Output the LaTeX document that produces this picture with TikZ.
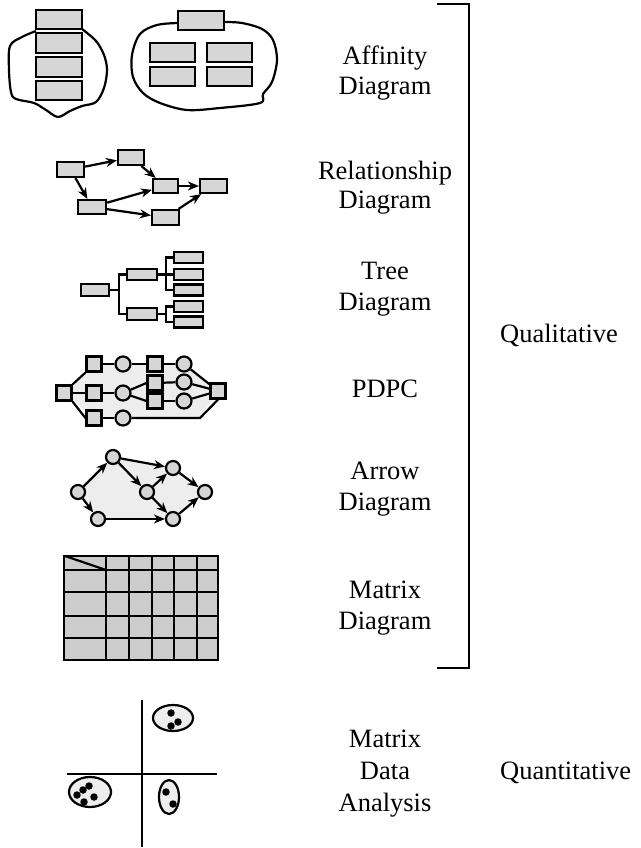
\documentclass[tikz,border=0pt]{standalone}
\usepackage{fontspec}
\setmainfont{Liberation Serif}
\usetikzlibrary{arrows.meta,calc}
\definecolor{boxgray}{gray}{0.84}
\definecolor{hullgray}{gray}{0.93}
\definecolor{matgray}{gray}{0.8}
\begin{document}
\begin{tikzpicture}[x=1pt,y=-1pt,
  ln/.style={line width=2.2pt},
  bx/.style={draw, line width=2.2pt, fill=boxgray, inner sep=0pt, minimum width=#1},
  bx/.default=27pt,
  sq/.style={draw, line width=2.2pt, fill=boxgray, inner sep=0pt, minimum width=15pt, minimum height=15pt},
  ci/.style={draw, line width=2.2pt, fill=boxgray, circle, inner sep=0pt, minimum size=#1},
  ci/.default=15pt,
  arr/.style={line width=2.2pt, -{Stealth[length=11pt,width=9pt]}},
  lbl/.style={anchor=base, inner sep=0pt, font=\fontsize{26.5}{30}\selectfont},
  lblw/.style={anchor=base west, inner sep=0pt, font=\fontsize{26.5}{30}\selectfont},
  dot/.style={fill=black, circle, inner sep=0pt, minimum size=7.5pt}
]
\useasboundingbox[fill=white] (0,0) rectangle (640,848);

% ---------- Affinity diagram ----------
\draw[ln] plot[smooth, tension=0.55] coordinates {(82,29) (96,41) (104,55) (107,70) (104,88) (96,102) (82,106) (70,111) (58,117) (46,110) (34,103) (16,99) (11,92) (9,70) (10,46) (22,37) (36,31)};
\node[bx=46pt, minimum height=19pt] (af0) at (59,19.5) {};
\node[bx=46pt, minimum height=20pt] (af1) at (59,43) {};
\node[bx=46pt, minimum height=20pt] (af2) at (59,67) {};
\node[bx=46pt, minimum height=19pt] (af3) at (59,90.5) {};

\draw[ln] plot[smooth, tension=0.55] coordinates {(178,23) (157,25) (140,34) (132,55) (133,77) (143,93) (160,103) (187,110) (220,108) (260,103) (263,94) (272,82) (277,60) (273,40) (262,29) (242,23) (224,22)};
\node[bx=46pt, minimum height=19pt] (ar0) at (201,20.5) {};
\node[bx=45pt, minimum height=19pt] (ar1) at (172.5,52.5) {};
\node[bx=45pt, minimum height=19pt] (ar2) at (229.5,52.5) {};
\node[bx=45pt, minimum height=19pt] (ar3) at (172.5,76.5) {};
\node[bx=45pt, minimum height=19pt] (ar4) at (229.5,76.5) {};

% ---------- Relationship diagram ----------
\node[bx=27pt, minimum height=15pt] (rA) at (70.5,169.5) {};
\node[bx=26pt, minimum height=15pt] (rB) at (131,157.5) {};
\node[bx=25pt, minimum height=14pt] (rC) at (165.5,186) {};
\node[bx=27pt, minimum height=14pt] (rD) at (213.5,186) {};
\node[bx=28pt, minimum height=14pt] (rE) at (92,207) {};
\node[bx=27pt, minimum height=15pt] (rF) at (165.5,217.5) {};
\draw[arr] (rA) -- (rB);
\draw[arr] (rA) -- (rE);
\draw[arr] (rB) -- (rC);
\draw[arr] (rE) -- (rC);
\draw[arr] (rE) -- (rF);
\draw[arr] (rC) -- (rD);
\draw[arr] (rF) -- (rD);

% ---------- Tree diagram ----------
\node[bx=28pt, minimum height=12pt] (t0) at (95,290) {};
\node[bx=30pt, minimum height=11pt] (tm1) at (142,274.5) {};
\node[bx=30pt, minimum height=12pt] (tm2) at (142,314) {};
\node[bx=29pt, minimum height=11pt] (tl1) at (188.5,257.5) {};
\node[bx=29pt, minimum height=11pt] (tl2) at (188.5,274.5) {};
\node[bx=29pt, minimum height=11pt] (tl3) at (188.5,290) {};
\node[bx=29pt, minimum height=11pt] (tl4) at (188.5,306.5) {};
\node[bx=29pt, minimum height=11pt] (tl5) at (188.5,322) {};
\draw[ln] (t0.east) -- ++(9,0) coordinate (tj0);
\draw[ln] (tm1.west) -| (tj0) |- (tm2.west);
\draw[ln] (tm1.east) -- (tl2.west);
\coordinate (tj1) at ($(tm1.east)+(8,0)$);
\draw[ln] (tl1.west) -| (tj1) |- (tl3.west);
\draw[ln] (tm2.east) -- ++(8,0) coordinate (tj2);
\draw[ln] (tl4.west) -| (tj2) |- (tl5.west);

% ---------- PDPC ----------
\fill[hullgray] (64,393) -- (94,364) -- (184,364) -- (218,391) -- (200,418) -- (94,418) -- cycle;
\node[sq] (p0) at (64,393) {};
\node[sq] (ps1) at (94,364) {};
\node[ci] (pc1) at (123,364) {};
\node[sq] (ps1b) at (155,364) {};
\node[ci] (pc1b) at (184,364) {};
\node[sq] (ps2) at (94,393) {};
\node[ci] (pc2) at (123,393) {};
\node[sq] (ps2a) at (155,383) {};
\node[ci] (pc2a) at (184,382) {};
\node[sq] (ps2b) at (155,401) {};
\node[ci] (pc2b) at (184,401) {};
\node[sq] (pend) at (218,391) {};
\node[sq] (ps3) at (94,418) {};
\node[ci] (pc3) at (123,418) {};
\coordinate (pk) at (200,418);
\draw[ln] (p0.north east) -- (ps1.south west);
\draw[ln] (p0) -- (ps2);
\draw[ln] (p0.south east) -- (ps3.west);
\draw[ln] (ps1) -- (pc1);
\draw[ln] (pc1) -- (ps1b);
\draw[ln] (ps1b) -- (pc1b);
\draw[ln] (pc1b) -- (pend);
\draw[ln] (ps2) -- (pc2);
\draw[ln] (pc2) -- (ps2a.west);
\draw[ln] (pc2) -- (ps2b.west);
\draw[ln] (ps2a) -- (pc2a);
\draw[ln] (ps2b) -- (pc2b);
\draw[ln] (pc2a) -- (pend);
\draw[ln] (pc2b) -- (pend);
\draw[ln] (ps3) -- (pc3);
\draw[ln] (pc3) -- (pk) -- (pend.south);

% ---------- Arrow diagram ----------
\fill[hullgray] (78,492) -- (113,457) -- (173,468) -- (205,492) -- (173,519) -- (98,519) -- cycle;
\node[ci=14pt] (da) at (78,492) {};
\node[ci=14pt] (db) at (113,457) {};
\node[ci=14pt] (dc) at (98,519) {};
\node[ci=14pt] (dd) at (147,492) {};
\node[ci=14pt] (de) at (173,468) {};
\node[ci=14pt] (df) at (173,519) {};
\node[ci=14pt] (dg) at (205,492) {};
\draw[arr] (da) -- (db);
\draw[arr] (da) -- (dc);
\draw[arr] (db) -- (de);
\draw[arr] (db) -- (dd);
\draw[arr] (dd) -- (de);
\draw[arr] (dd) -- (df);
\draw[arr] (dc) -- (df);
\draw[arr] (de) -- (dg);
\draw[arr] (df) -- (dg);

% ---------- Matrix diagram ----------
\fill[matgray] (64,556) rectangle (218,660);
\foreach \x in {106,129,152,174,197} \draw[ln] (\x,556) -- (\x,660);
\foreach \y in {570,592,616,638} \draw[ln] (64,\y) -- (218,\y);
\draw[ln] (64,556) rectangle (218,660);
\draw[ln] (65,556) -- (106,570);

% ---------- Matrix data analysis ----------
\draw[ln] (142,700) -- (142,847);
\draw[ln] (67,774) -- (217,774);
\draw[ln, fill=hullgray] (173,718) ellipse [x radius=20, y radius=13];
\draw[ln, fill=hullgray] (90,792) ellipse [x radius=21, y radius=15];
\draw[ln, fill=hullgray] (169,797) ellipse [x radius=10, y radius=17];
\node[dot] (m1) at (171,713) {};
\node[dot] (m2) at (178,722) {};
\node[dot] (m3) at (171,726) {};
\node[dot] (m4) at (89,786) {};
\node[dot] (m5) at (83,790) {};
\node[dot] (m6) at (77,795) {};
\node[dot] (m7) at (94,797) {};
\node[dot] (m8) at (84,802) {};
\node[dot] (m9) at (166,792) {};
\node[dot] (m10) at (173,804) {};

% ---------- Labels ----------
\node[lbl] (L1a) at (385,65) {Affinity};
\node[lbl] (L1b) at (385,95) {Diagram};
\node[lbl] (L2a) at (385,179) {Relationship};
\node[lbl] (L2b) at (385,208) {Diagram};
\node[lbl] (L3a) at (385,279) {Tree};
\node[lbl] (L3b) at (385,310) {Diagram};
\node[lbl] (L4) at (385,397) {PDPC};
\node[lbl] (L5a) at (385,479) {Arrow};
\node[lbl] (L5b) at (385,510) {Diagram};
\node[lbl] (L6a) at (385,598) {Matrix};
\node[lbl] (L6b) at (385,629) {Diagram};
\node[lbl] (L7a) at (385,747) {Matrix};
\node[lbl] (L7b) at (385,779) {Data};
\node[lbl] (L7c) at (385,811) {Analysis};
\node[lblw] (Q1) at (500,342) {Qualitative};
\node[lblw] (Q2) at (500,779) {Quantitative};

% ---------- Bracket ----------
\draw[ln] (437,4) -- (469,4) -- (469,668) -- (437,668);
\end{tikzpicture}
\end{document}
